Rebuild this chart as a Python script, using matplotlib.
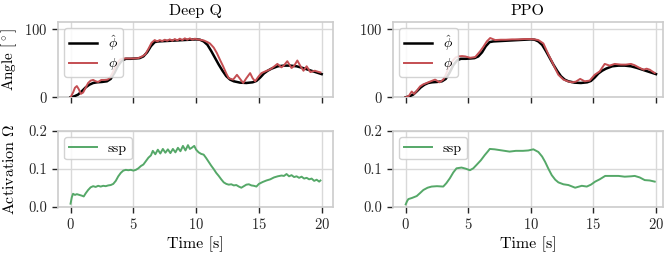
import matplotlib
matplotlib.use("Agg")
import matplotlib.pyplot as plt

# ---------------- data ----------------
t_ref = [0, 0.3, 0.6, 0.9, 1.2, 1.5, 1.8, 2.1, 2.5, 2.9,
         3.2, 3.5, 3.8, 4.1, 4.4, 4.8, 5.2, 5.5, 5.8, 6.1,
         6.4, 6.7, 7.0, 7.5, 8.0, 8.5, 9.0, 9.5, 10.0, 10.3,
         10.6, 10.9, 11.2, 11.5, 11.8, 12.1, 12.4, 12.7, 13.0, 13.5,
         14.0, 14.5, 14.8, 15.1, 15.4, 15.7, 16.0, 16.5, 17.0, 17.5,
         18.0, 18.5, 19.0, 19.5, 20.0]
phi_hat = [0, 1.5, 4, 9, 14.5, 18.5, 21, 22, 22.5, 23.5,
           27, 36, 47, 54, 56.5, 56.5, 57, 57.5, 60, 66,
           75, 81, 82, 82.5, 83, 83.5, 84, 84.5, 85, 84.5,
           82, 77, 68, 58, 48, 39, 31, 26, 23.5, 21.5,
           21, 22, 24, 29, 35, 39, 42, 45.5, 46.5, 46.5,
           45.5, 43, 40, 37, 34]

t_phi_dq = [0, 0.2, 0.35, 0.5, 0.65, 0.82, 1.0, 1.2, 1.4, 1.6,
            1.8, 2.0, 2.2, 2.45, 2.7, 2.95, 3.15, 3.35, 3.55, 3.75,
            3.95, 4.2, 4.6, 5.0, 5.4, 5.7, 5.95, 6.2, 6.45, 6.7,
            6.9, 7.1, 7.3, 7.5, 7.7, 7.9, 8.1, 8.3, 8.5, 8.7,
            8.9, 9.1, 9.3, 9.5, 9.7, 9.9, 10.1, 10.3, 10.6, 10.9,
            11.1, 11.4, 11.65, 11.9, 12.15, 12.4, 12.6, 12.95, 13.25, 13.5,
            13.75, 14.0, 14.3, 14.5, 14.7, 14.95, 15.2, 15.5, 15.9, 16.2,
            16.47, 16.8, 17.0, 17.26, 17.6, 17.8, 18.06, 18.3, 18.55, 18.8,
            19.1, 19.45, 19.7, 19.9]
phi_dq = [0, 7, 14, 16.5, 12, 5, 7, 14, 21, 24.5,
          25.5, 23.5, 22.5, 25.5, 25.5, 26, 29, 36, 44, 51,
          55.5, 57, 57, 57, 57.5, 60, 63, 71, 80, 84,
          82, 84, 82.5, 84.5, 83, 85, 83, 85.5, 83.5, 86,
          84, 86.5, 84.5, 86.5, 84.5, 86, 85, 84.5, 83.5, 81,
          79, 73, 65, 55, 45.5, 35, 28, 26, 33, 27,
          21, 28, 35.5, 28, 23.5, 30, 35.5, 38, 41, 45,
          49, 44, 47, 53, 43, 46, 54, 46, 39, 45.5,
          37, 39, 37.5, 36.5]

t_phi_ppo = [0, 0.25, 0.48, 0.67, 0.9, 1.15, 1.4, 1.68, 2.0, 2.35,
             2.7, 3.0, 3.2, 3.41, 3.61, 3.81, 4.0, 4.21, 4.5, 4.75,
             5.15, 5.55, 5.95, 6.2, 6.48, 6.75, 7.15, 7.6, 8.0, 8.5,
             9.0, 9.5, 10.0, 10.3, 10.6, 11.0, 11.4, 11.67, 11.95, 12.2,
             12.6, 12.95, 13.27, 13.6, 13.94, 14.3, 14.7, 15.1, 15.5, 15.9,
             16.3, 16.7, 17.2, 17.6, 18.0, 18.3, 18.6, 19.0, 19.25, 19.5,
             19.7, 19.9]
phi_ppo = [0, 2, 8.5, 5, 10, 16, 19, 21, 23.5, 26,
           22, 26, 33, 43, 50, 55, 58.5, 60, 60.5, 60,
           58, 59, 67.6, 74, 82, 87, 84, 84.5, 84.5, 85,
           85, 85.5, 85.5, 85, 84, 79, 63, 53, 42, 33,
           26, 23.5, 22, 23, 27, 23.5, 24.5, 33, 38, 49,
           46.5, 49, 48, 48, 49, 47, 44, 40.5, 42, 40.5,
           38, 35.7]

t_act_dq = [0, 0.1, 0.2, 0.35, 0.5, 0.7, 0.9, 1.05, 1.2, 1.4,
            1.6, 1.8, 2.0, 2.2, 2.4, 2.6, 2.8, 3.0, 3.2, 3.4,
            3.6, 3.8, 4.0, 4.2, 4.4, 4.6, 4.8, 5.0, 5.2, 5.4,
            5.6, 5.8, 6.0, 6.2, 6.4, 6.55, 6.75, 6.95, 7.15, 7.35,
            7.55, 7.75, 7.95, 8.15, 8.35, 8.55, 8.75, 8.95, 9.15, 9.35,
            9.5, 9.65, 9.85, 10.0, 10.2, 10.4, 10.6, 10.8, 11.0, 11.2,
            11.4, 11.6, 11.8, 12.0, 12.2, 12.4, 12.6, 12.8, 13.0, 13.2,
            13.4, 13.6, 13.8, 14.0, 14.2, 14.4, 14.6, 14.8, 15.0, 15.3,
            15.6, 15.9, 16.2, 16.5, 16.8, 17.0, 17.2, 17.4, 17.6, 17.8,
            18.0, 18.2, 18.4, 18.6, 18.8, 19.0, 19.2, 19.4, 19.6, 19.8,
            19.9]
act_dq = [0.008, 0.025, 0.034, 0.031, 0.033, 0.031, 0.029, 0.027, 0.035, 0.044,
          0.051, 0.054, 0.052, 0.055, 0.053, 0.055, 0.054, 0.056, 0.057, 0.060,
          0.068, 0.080, 0.089, 0.095, 0.097, 0.096, 0.097, 0.095, 0.097, 0.101,
          0.107, 0.111, 0.120, 0.129, 0.135, 0.147, 0.138, 0.150, 0.140, 0.152,
          0.142, 0.151, 0.141, 0.152, 0.143, 0.155, 0.146, 0.160, 0.148, 0.162,
          0.152, 0.155, 0.160, 0.150, 0.143, 0.139, 0.137, 0.128, 0.118, 0.108,
          0.099, 0.089, 0.081, 0.072, 0.064, 0.060, 0.058, 0.059, 0.056, 0.057,
          0.053, 0.050, 0.054, 0.058, 0.059, 0.056, 0.055, 0.053, 0.060, 0.065,
          0.069, 0.072, 0.077, 0.080, 0.082, 0.081, 0.086, 0.080, 0.083, 0.078,
          0.080, 0.076, 0.079, 0.074, 0.076, 0.072, 0.074, 0.068, 0.071, 0.066,
          0.069]

t_act_ppo = [0, 0.1, 0.21, 0.5, 0.88, 1.15, 1.41, 1.75, 2.07, 2.5,
             3.0, 3.25, 3.53, 3.8, 4.06, 4.46, 4.8, 5.13, 5.4, 5.66,
             6.0, 6.32, 6.55, 6.72, 7.1, 7.5, 7.9, 8.3, 8.8, 9.37,
             9.8, 10.2, 10.6, 10.9, 11.14, 11.4, 11.67, 11.95, 12.2, 12.6,
             13.0, 13.54, 14.07, 14.47, 14.8, 15.14, 15.5, 15.94, 16.5, 17.0,
             17.5, 18.0, 18.3, 18.7, 19.1, 19.5, 19.9]
act_ppo = [0.006, 0.014, 0.020, 0.023, 0.028, 0.036, 0.044, 0.050, 0.053, 0.054,
           0.053, 0.062, 0.075, 0.090, 0.101, 0.103, 0.100, 0.096, 0.101, 0.110,
           0.122, 0.136, 0.145, 0.152, 0.151, 0.149, 0.147, 0.145, 0.147, 0.147,
           0.148, 0.151, 0.144, 0.132, 0.118, 0.100, 0.083, 0.071, 0.064, 0.059,
           0.057, 0.050, 0.055, 0.053, 0.058, 0.066, 0.072, 0.081, 0.081, 0.081,
           0.079, 0.080, 0.081, 0.077, 0.070, 0.069, 0.066]

titles = ["Deep Q", "PPO"]
x_ticks = [0, 5, 10, 15, 20]
angle_ticks = [0, 100]
act_ticks = [0.0, 0.1, 0.2]

# ---------------- style ----------------
plt.rcParams.update({
    "font.family": "serif",
    "font.serif": ["cmr10", "DejaVu Serif"],
    "mathtext.fontset": "cm",
    "axes.formatter.use_mathtext": True,
    "axes.unicode_minus": False,
    "axes.edgecolor": "0.8",
    "axes.linewidth": 1.2,
    "grid.color": "0.85",
    "grid.linewidth": 1.0,
    "xtick.color": "0.15",
    "ytick.color": "0.15",
    "xtick.major.size": 4.5,
    "ytick.major.size": 4.5,
    "xtick.major.width": 1.0,
    "ytick.major.width": 1.0,
    "xtick.labelsize": 10.5,
    "ytick.labelsize": 10.5,
    "axes.labelsize": 11.5,
    "axes.titlesize": 11.5,
    "legend.fontsize": 10,
})

RED = "#c44e52"
GREEN = "#55a868"

W, H = 669, 256
fig = plt.figure(figsize=(W / 100, H / 100), dpi=100)

def px_axes(x0, y0, x1, y1):
    return fig.add_axes([x0 / W, 1 - y1 / H, (x1 - x0) / W, (y1 - y0) / H])

ax_tl = px_axes(58, 22, 333, 97.3)
ax_bl = px_axes(58, 130.7, 333, 206.7)
ax_tr = px_axes(392.7, 22, 663, 97.3)
ax_br = px_axes(392.7, 130.7, 663, 206.7)

top_data = [(t_phi_dq, phi_dq), (t_phi_ppo, phi_ppo)]
bot_data = [(t_act_dq, act_dq), (t_act_ppo, act_ppo)]
xlims = [(-1.0, 20.9), (-1.04, 20.56)]

for i, (axt, axb) in enumerate([(ax_tl, ax_bl), (ax_tr, ax_br)]):
    axt.plot(t_ref, phi_hat, color="black", lw=1.8, label=r"$\hat{\phi}$", zorder=3)
    axt.plot(top_data[i][0], top_data[i][1], color=RED, lw=1.4, label=r"$\phi$", zorder=4)
    axb.plot(bot_data[i][0], bot_data[i][1], color=GREEN, lw=1.4, label="ssp", zorder=3)

    axt.set_title(titles[i], pad=5)
    for ax in (axt, axb):
        ax.set_xlim(*xlims[i])
        ax.set_xticks(x_ticks)
        ax.grid(True, zorder=0)
        ax.set_axisbelow(True)
        ax.tick_params(direction="out", bottom=True, left=True, pad=3)
        ax.legend(loc="upper left", frameon=True, fancybox=True,
                  edgecolor="0.8", framealpha=0.85, borderaxespad=0.45,
                  handlelength=2.0, borderpad=0.35, labelspacing=0.25)
    axt.set_ylim(0, 110.5)
    axt.set_yticks(angle_ticks)
    axt.tick_params(labelbottom=False)
    axb.set_ylim(0, 0.2)
    axb.set_yticks(act_ticks)
    axb.set_yticklabels(["0.0", "0.1", "0.2"])
    axb.set_xlabel("Time [s]", labelpad=3)

ax_tl.set_ylabel(r"Angle [$^\circ$]", fontsize=11)
ax_bl.set_ylabel(r"Activation $\Omega$")
ax_tl.yaxis.set_label_coords(-0.14, 0.5)
ax_bl.yaxis.set_label_coords(-0.148, 0.5)

fig.savefig("out.png", dpi=100)
